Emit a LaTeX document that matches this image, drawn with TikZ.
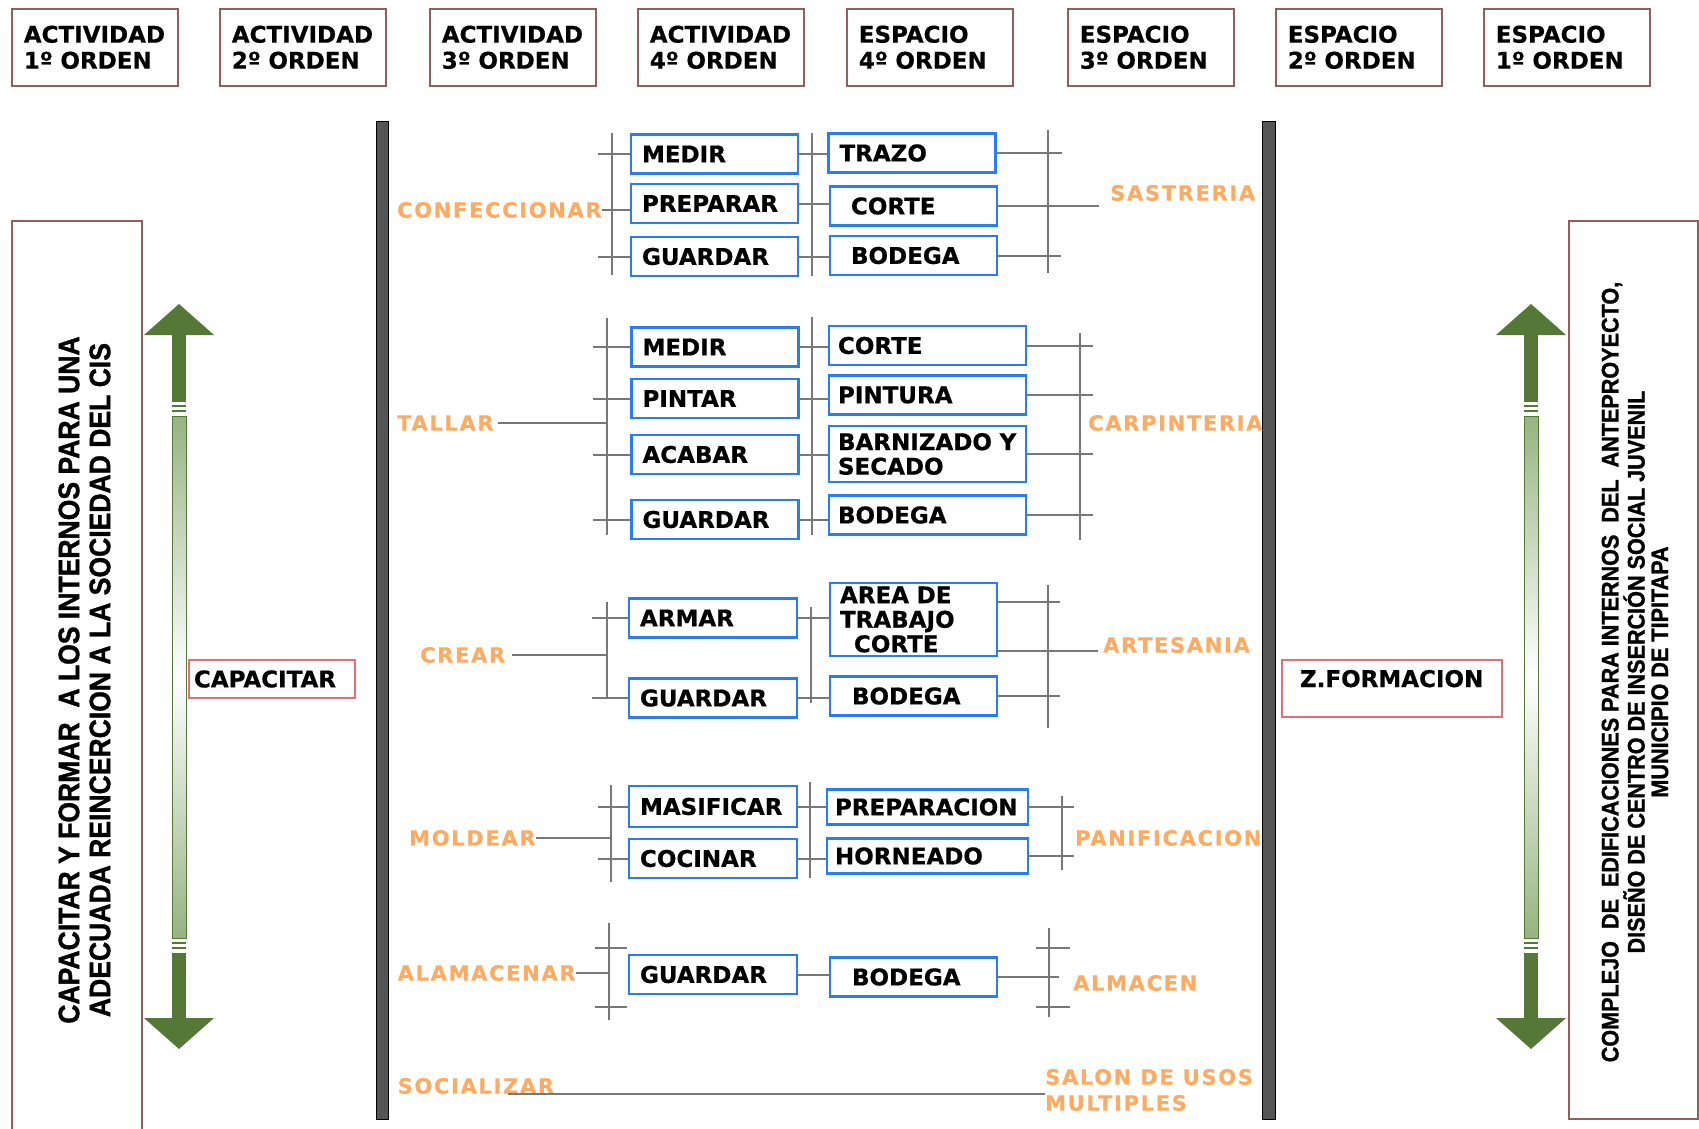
\documentclass[tikz,border=0pt]{standalone}
\usepackage{fontspec}
\usepackage{xcolor}
\usepackage{tikz}
\usetikzlibrary{calc}
\newfontfamily\dejavu[FakeBold=0.6]{DejaVu Sans}
\newfontfamily\dejavuesp[LetterSpace=8,FakeBold=0.6]{DejaVu Sans}
\newfontfamily\estrecha[FakeStretch=0.9,FakeBold=1.2]{Liberation Sans Bold}
\definecolor{AzulCaja}{RGB}{40,125,245}
\definecolor{NaranjaTexto}{RGB}{250,172,100}
\definecolor{GrisLinea}{RGB}{120,120,120}
\definecolor{MarronBorde}{RGB}{145,95,95}
\definecolor{RojoCaja}{RGB}{230,110,120}
\definecolor{VerdeFlecha}{RGB}{85,120,55}
\definecolor{VerdeClaro}{RGB}{150,180,130}
\definecolor{GrisBarra}{RGB}{85,85,85}
\tikzset{
  encabezado/.style={draw=MarronBorde,line width=1.6pt,minimum width=166pt,minimum height=77pt,
    text width=142pt,inner xsep=12pt,align=left,
    font=\dejavu\bfseries\fontsize{23}{26}\selectfont},
  caja/.style={draw=AzulCaja,line width=2.2pt,fill=white,minimum height=39pt,
    text width=#1,inner xsep=11pt,inner ysep=3pt,align=left,
    font=\dejavu\bfseries\fontsize{23}{24.5}\selectfont},
  caja/.default=145pt,
  etiqueta/.style={text=NaranjaTexto,inner sep=0pt,anchor=west,align=left,
    font=\dejavuesp\bfseries\fontsize{21}{26}\selectfont},
  corchete/.style={draw=GrisLinea,line width=2pt},
  zona/.style={draw=RojoCaja,line width=1.5pt,align=left,
    font=\dejavu\bfseries\fontsize{23}{26}\selectfont}
}
\begin{document}
\begin{tikzpicture}[x=1pt,y=-1pt]
  \useasboundingbox (0,0) rectangle (1699,1129);
  % encabezados
  \foreach \x/\t/\n [count=\i] in {11/ACTIVIDAD/1,219/ACTIVIDAD/2,429/ACTIVIDAD/3,637/ACTIVIDAD/4,
      846/ESPACIO/4,1067/ESPACIO/3,1275/ESPACIO/2,1483/ESPACIO/1}
    \node[encabezado,anchor=north west] (enc\i) at (\x,8) {\t\\{\n}º ORDEN};
  % marcos laterales
  \node[draw=MarronBorde,line width=1.5pt,minimum width=130pt,minimum height=915pt,anchor=north west] (marcoIzq) at (11,220) {};
  \node[rotate=90,align=center,font=\estrecha\fontsize{29.5}{31}\selectfont] (objetivo) at (84.5,680)
    {CAPACITAR Y FORMAR\ \ A LOS INTERNOS PARA UNA\\ADECUADA REINCERCION A LA SOCIEDAD DEL CIS};
  \node[draw=MarronBorde,line width=1.5pt,minimum width=129pt,minimum height=898pt,anchor=north west] (marcoDer) at (1568,220) {};
  \node[rotate=90,align=center,font=\estrecha\fontsize{24}{23.5}\selectfont] (complejo) at (1635,672)
    {COMPLEJO\ \ DE\ \ EDIFICACIONES PARA INTERNOS\ \ DEL\ \ ANTEPROYECTO,\\DISEÑO DE CENTRO DE INSERCIÓN SOCIAL JUVENIL\\MUNICIPIO DE TIPITAPA};
  % barras
  \filldraw[fill=GrisBarra,draw=black,line width=1pt] (376,122) rectangle (388,1119);
  \filldraw[fill=GrisBarra,draw=black,line width=1pt] (1262,122) rectangle (1275,1119);
  % flechas dobles
  \foreach \cx in {179,1531} {
    \fill[VerdeFlecha] (\cx,304) -- (\cx+35,335) -- (\cx-35,335) -- cycle;
    \fill[VerdeFlecha] (\cx,1049) -- (\cx+35,1018) -- (\cx-35,1018) -- cycle;
    \fill[VerdeFlecha] (\cx-7,335) rectangle (\cx+7,402);
    \fill[VerdeFlecha] (\cx-7,953) rectangle (\cx+7,1018);
    \shade[top color=VerdeClaro,bottom color=VerdeClaro,middle color=white,draw=VerdeFlecha,line width=0.8pt]
      (\cx-7,416) rectangle (\cx+7,938);
    \draw[VerdeFlecha,line width=2pt] (\cx-7,406) -- (\cx+7,406) (\cx-7,411) -- (\cx+7,411)
      (\cx-7,943) -- (\cx+7,943) (\cx-7,948) -- (\cx+7,948);
  }
  \node[zona,minimum width=166pt,minimum height=38pt,text width=156pt,inner xsep=5pt] (capacitar) at (272,679) {CAPACITAR};
  \node[zona,minimum width=220pt,text width=184pt,inner xsep=18pt,inner ysep=5pt,text height=22pt,text depth=25pt]
    (formacion) at (1392,688.5) {Z.FORMACION};

  % confeccionar - sastreria
  \node[etiqueta] (confeccionar) at (397,210) {CONFECCIONAR};
  \node[caja] (medirA) at (714.5,154) {MEDIR};
  \node[caja] (prepararA) at (714.5,203.5) {PREPARAR};
  \node[caja] (guardarA) at (714.5,256.5) {GUARDAR};
  \node[caja] (trazo) at (912,153) {TRAZO};
  \node[caja] (corteA) at (913.5,206) {\hspace*{10pt}CORTE};
  \node[caja] (bodegaA) at (913.5,255.5) {\hspace*{10pt}BODEGA};
  \node[etiqueta] (sastreria) at (1110,193) {SASTRERIA};
  \coordinate (llA1) at (612,133); \coordinate (llA2) at (612,275);
  \coordinate (mdA1) at (812,133); \coordinate (mdA2) at (812,276);
  \coordinate (lrA1) at (1048,130); \coordinate (lrA2) at (1048,273);
  \draw[corchete] (llA1) -- (llA2) (mdA1) -- (mdA2) (lrA1) -- (lrA2);
  \draw[corchete] (medirA.west) -- ++(-32,0) (guardarA.west) -- ++(-32,0)
    (confeccionar.east) -- (confeccionar.east -| prepararA.west);
  \draw[corchete] (medirA.east) -- (medirA.east -| trazo.west)
    (prepararA.east) -- (prepararA.east -| corteA.west)
    (guardarA.east) -- (guardarA.east -| bodegaA.west);
  \draw[corchete] (trazo.east) -- ++(65,0) (corteA.east) -- ++(101,0) (bodegaA.east) -- ++(63,0);

  % tallar - carpinteria
  \node[etiqueta] (tallar) at (397,423) {TALLAR};
  \node[caja] (medirB) at (715,347) {MEDIR};
  \node[caja] (pintar) at (715,398.5) {PINTAR};
  \node[caja] (acabar) at (715,454.5) {ACABAR};
  \node[caja] (guardarB) at (715,519.5) {GUARDAR};
  \node[caja=179pt,inner xsep=9pt] (corteB) at (927.5,345.5) {CORTE};
  \node[caja=179pt,inner xsep=9pt] (pintura) at (927.5,395) {PINTURA};
  \node[caja=179pt,inner xsep=9pt,minimum height=56pt] (barnizado) at (927.5,454) {BARNIZADO Y\\SECADO};
  \node[caja=179pt,inner xsep=9pt] (bodegaB) at (927.5,515) {BODEGA};
  \node[etiqueta] (carpinteria) at (1088,423) {CARPINTERIA};
  \coordinate (llB1) at (606.5,318); \coordinate (llB2) at (606.5,535);
  \coordinate (mdB1) at (812,317); \coordinate (mdB2) at (812,535);
  \coordinate (lrB1) at (1080,333); \coordinate (lrB2) at (1080,540);
  \draw[corchete] (llB1) -- (llB2) (mdB1) -- (mdB2) (lrB1) -- (lrB2);
  \draw[corchete] ([xshift=4pt]tallar.east) -- (tallar.east -| llB1);
  \foreach \b in {medirB,pintar,acabar,guardarB}
    \draw[corchete] (\b.west) -- ++(-37,0);
  \foreach \a/\b in {medirB/corteB,pintar/pintura,acabar/barnizado,guardarB/bodegaB} {
    \draw[corchete] (\a.east) -- (\a.east -| \b.west);
    \draw[corchete] (\b.east) -- ++(66,0);
  }

  % crear - artesania
  \node[etiqueta] (crear) at (420,655) {CREAR};
  \node[caja=146pt] (armar) at (713,618) {ARMAR};
  \node[caja=146pt] (guardarC) at (713,698) {GUARDAR};
  \node[caja=147pt,inner xsep=10pt,minimum height=73pt,inner ysep=1pt] (area) at (913.5,619.5)
    {AREA DE\\TRABAJO\\\hspace*{14pt}CORTE};
  \node[caja=147pt,inner xsep=10pt] (bodegaC) at (913.5,696) {\hspace*{12pt}BODEGA};
  \node[etiqueta] (artesania) at (1103,645) {ARTESANIA};
  \coordinate (llC1) at (606.5,602); \coordinate (llC2) at (606.5,697);
  \coordinate (mdC1) at (811,607); \coordinate (mdC2) at (811,703);
  \coordinate (lrC1) at (1048,585); \coordinate (lrC2) at (1048,728);
  \draw[corchete] (llC1) -- (llC2) (mdC1) -- (mdC2) (lrC1) -- (lrC2);
  \draw[corchete] ([xshift=7pt]crear.east) -- (crear.east -| llC1);
  \draw[corchete] (armar.west) -- ++(-36,0) (guardarC.west) -- ++(-36,0);
  \draw[corchete] (armar.east) -- (armar.east -| area.west)
    (guardarC.east) -- (guardarC.east -| bodegaC.west);
  \draw[corchete] ([yshift=17.5pt]area.east) -- ++(62,0) ([yshift=-31.5pt]area.east) -- ++(100,0)
    (bodegaC.east) -- ++(62,0);

  % moldear - panificacion
  \node[etiqueta] (moldear) at (409,838) {MOLDEAR};
  \node[caja=146pt,minimum height=41pt] (masificar) at (713,806.5) {MASIFICAR};
  \node[caja=146pt] (cocinar) at (713,858.5) {COCINAR};
  \node[caja=185pt,inner xsep=8pt,minimum height=35pt] (preparacion) at (927.5,807) {PREPARACION};
  \node[caja=185pt,inner xsep=8pt,minimum height=35pt] (horneado) at (927.5,856) {HORNEADO};
  \node[etiqueta] (panificacion) at (1075,838) {PANIFICACION};
  \coordinate (llD1) at (611,785); \coordinate (llD2) at (611,882);
  \coordinate (mdD1) at (810,782); \coordinate (mdD2) at (810,878);
  \coordinate (lrD1) at (1062,796); \coordinate (lrD2) at (1062,870);
  \draw[corchete] (llD1) -- (llD2) (mdD1) -- (mdD2) (lrD1) -- (lrD2);
  \draw[corchete] (moldear.east) -- (moldear.east -| llD1);
  \draw[corchete] (masificar.west) -- ++(-30,0) (cocinar.west) -- ++(-30,0);
  \draw[corchete] (masificar.east) -- (masificar.east -| preparacion.west)
    (cocinar.east) -- (cocinar.east -| horneado.west);
  \draw[corchete] (preparacion.east) -- ++(45,0) (horneado.east) -- ++(45,0);

  % alamacenar - almacen
  \node[etiqueta] (alamacenar) at (397.5,973) {ALAMACENAR};
  \node[caja=146pt] (guardarE) at (713,974.5) {GUARDAR};
  \node[caja=147pt,inner xsep=10pt] (bodegaE) at (913.5,977) {\hspace*{12pt}BODEGA};
  \node[etiqueta] (almacen) at (1073,983) {ALMACEN};
  \coordinate (llE1) at (609,923); \coordinate (llE2) at (609,1020);
  \coordinate (lrE1) at (1049,928); \coordinate (lrE2) at (1049,1017);
  \draw[corchete] (llE1) -- (llE2) (lrE1) -- (lrE2);
  \foreach \y in {948,1007} {
    \draw[corchete] (595,\y) -- (627,\y);
    \draw[corchete] (1036,\y) -- (1070,\y);
  }
  \draw[corchete] (alamacenar.east) -- (alamacenar.east -| llE1);
  \draw[corchete] (guardarE.east) -- (guardarE.east -| bodegaE.west);
  \draw[corchete] (bodegaE.east) -- ++(61,0);

  % socializar - salon
  \node[etiqueta] (socializar) at (397.5,1086) {SOCIALIZAR};
  \node[etiqueta] (salon) at (1045,1090) {SALON DE USOS\\MULTIPLES};
  \draw[corchete] ([xshift=-46pt]socializar.south east) -- (socializar.south east -| salon.west);
\end{tikzpicture}
\end{document}
